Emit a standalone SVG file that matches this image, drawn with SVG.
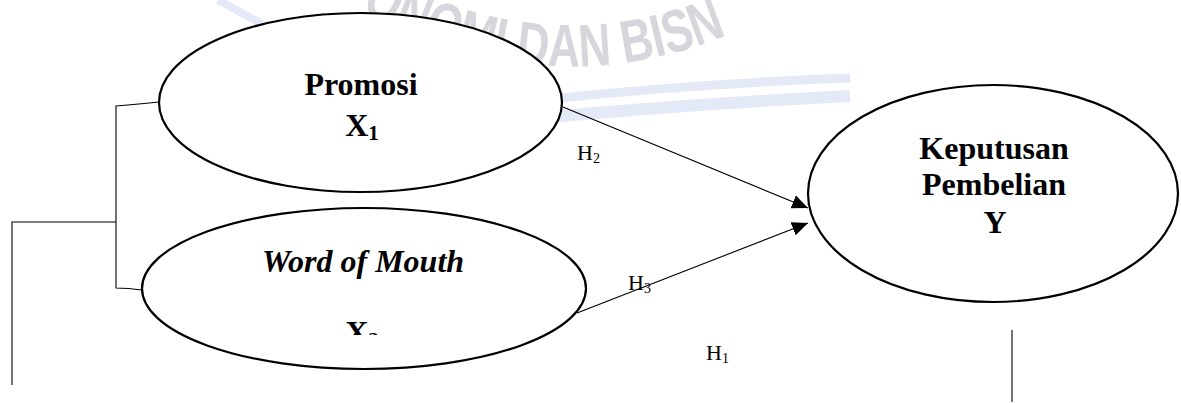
<svg xmlns="http://www.w3.org/2000/svg" width="1181" height="403" viewBox="0 0 1181 403">
<style>
.node{fill:#fff;stroke:#000;stroke-width:2.2}
.lbl{font-family:"Liberation Serif","Times New Roman",serif;font-weight:bold;font-size:32px;fill:#000;text-anchor:middle}
.h{font-family:"Liberation Serif","Times New Roman",serif;font-size:22px;fill:#000}
.conn{stroke:#000;stroke-width:1.1;fill:none}
.wm{fill:none;stroke:#e4e9f7}
</style>
<defs>
<marker id="arr" markerUnits="userSpaceOnUse" markerWidth="16" markerHeight="14" refX="16" refY="7" orient="auto">
<path d="M0,0 L16,7 L0,14 z" fill="#000"/>
</marker>
<path id="wmArc" d="M350,5 Q560,120 760,20"/>
<clipPath id="clipX2"><rect x="0" y="0" width="1181" height="335"/></clipPath>
</defs>
<g id="watermark">
<path class="wm" stroke-width="9" d="M540,100 Q690,84 850,78"/>
<path class="wm" stroke-width="12" d="M540,118 Q690,104 850,96"/>
<path class="wm" stroke-width="8" d="M218,0 L262,24"/>
<text font-family="'Liberation Sans',Arial,sans-serif" font-weight="bold" font-size="60" fill="#d6d6dc"><textPath href="#wmArc" startOffset="12" textLength="380" lengthAdjust="spacingAndGlyphs">ONOMI DAN BISN</textPath></text>
</g>
<g id="connectors">
<path class="conn" d="M159,102 Q140,104 116,106 L116,288 Q128,288 142,290"/>
<path class="conn" d="M116,222 L12,222 L12,385"/>
<line class="conn" x1="1012" y1="330" x2="1012" y2="402"/>
<line class="conn" x1="563" y1="107" x2="808" y2="208" marker-end="url(#arr)"/>
<line class="conn" x1="577" y1="313" x2="808" y2="223" marker-end="url(#arr)"/>
</g>
<g id="node-promosi">
<ellipse class="node" cx="360.5" cy="102.5" rx="201.5" ry="89.5"/>
<text class="lbl" x="361" y="95">Promosi</text>
<text class="lbl" x="362" y="136">X<tspan font-size="21" dy="4">1</tspan></text>
</g>
<g id="node-wom">
<ellipse class="node" cx="364" cy="288.5" rx="222" ry="80.5"/>
<text class="lbl" x="363" y="272" font-style="italic" font-size="31">Word of Mouth</text>
<text class="lbl" x="362" y="343" clip-path="url(#clipX2)">X<tspan font-size="21" dy="4">2</tspan></text>
</g>
<g id="node-keputusan">
<ellipse class="node" cx="993" cy="193.5" rx="185" ry="108.5"/>
<text class="lbl" x="994" y="159">Keputusan</text>
<text class="lbl" x="994" y="195">Pembelian</text>
<text class="lbl" x="995" y="233">Y</text>
</g>
<g id="labels">
<text class="h" x="577" y="160">H<tspan font-size="14" dy="3">2</tspan></text>
<text class="h" x="628" y="290">H<tspan font-size="14" dy="3">3</tspan></text>
<text class="h" x="706" y="360">H<tspan font-size="14" dy="3">1</tspan></text>
</g>
</svg>
